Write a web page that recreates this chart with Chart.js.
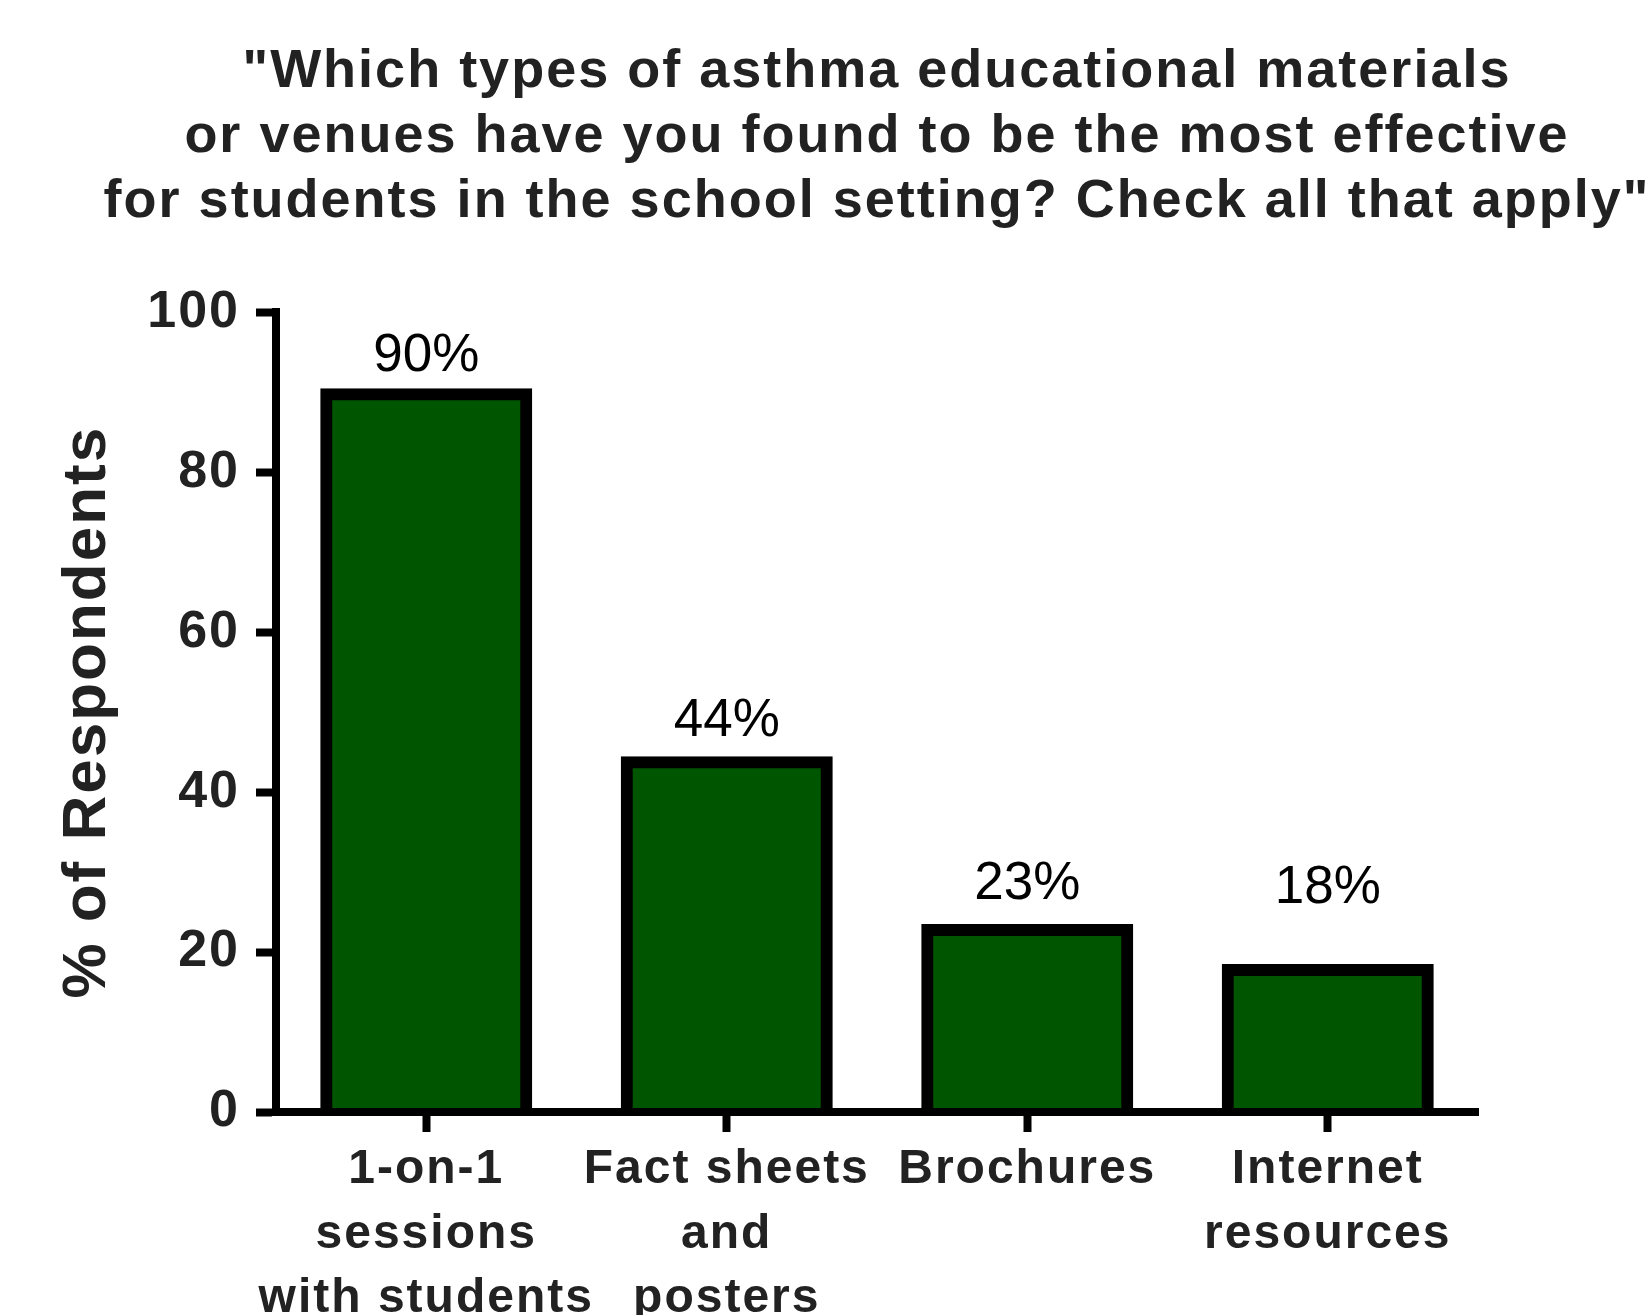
<!DOCTYPE html>
<html>
<head>
<meta charset="utf-8">
<script src="https://cdn.jsdelivr.net/npm/chart.js@4/dist/chart.umd.min.js"></script>
<style>
  html, body { margin: 0; padding: 0; background: #fff; }
</style>
</head>
<body>
<canvas id="graficoDeBarra" width="1650" height="1315"></canvas>
<script>
const tituloLinhas = [
  "\"Which types of asthma educational materials",
  "or venues have you found to be the most effective",
  "for students in the school setting? Check all that apply\""
];
const categorias = [
  ["1-on-1", "sessions", "with students"],
  ["Fact sheets", "and", "posters"],
  ["Brochures"],
  ["Internet", "resources"]
];
const respondentes = [90, 44, 23, 18];
const rotulos = ["90%", "44%", "23%", "18%"];
const yMax = 100;
const yPasso = 20;
// how far (px) each percent label sits above its bar
const rotuloAltura = [21, 24, 29, 65];

Chart.defaults.font.family = "'Liberation Sans', Arial, sans-serif";

// the old picture has loose letter spacing on the bold text
const espacamento = {
  id: "espacamento",
  beforeDraw(chart) { chart.ctx.letterSpacing = "2px"; },
  beforeDatasetsDraw(chart) { chart.ctx.letterSpacing = "0px"; },
  afterDatasetsDraw(chart) { chart.ctx.letterSpacing = "2px"; },
  afterDraw(chart) { chart.ctx.letterSpacing = "0px"; }
};

// title centred over the plot area but allowed to run wider than it
const tituloLargo = {
  id: "tituloLargo",
  afterLayout(chart) {
    const t = chart.titleBlock;
    if (!t) return;
    const meio = (chart.chartArea.left + chart.chartArea.right) / 2;
    t.left = meio - 900;
    t.right = meio + 900;
    t.width = 1800;
  }
};

const rotulosBarras = {
  id: "rotulosBarras",
  afterDatasetsDraw(chart) {
    const ctx = chart.ctx;
    const meta = chart.getDatasetMeta(0);
    ctx.save();
    ctx.letterSpacing = "0px";
    ctx.font = "53px 'Liberation Sans', Arial, sans-serif";
    ctx.fillStyle = "#000";
    ctx.textAlign = "center";
    ctx.textBaseline = "alphabetic";
    meta.data.forEach((bar, i) => {
      ctx.fillText(rotulos[i], bar.x, bar.y - rotuloAltura[i]);
    });
    ctx.restore();
  }
};

const ctx = document.getElementById("graficoDeBarra");

new Chart(ctx, {
  type: "bar",
  data: {
    labels: categorias,
    datasets: [
      {
        label: "% of Respondents",
        data: respondentes,
        backgroundColor: "#005500",
        borderColor: "#000000",
        borderWidth: 12,
        borderSkipped: "start",
        inflateAmount: 4,
        barPercentage: 0.679,
        categoryPercentage: 1
      }
    ]
  },
  options: {
    responsive: false,
    animation: false,
    devicePixelRatio: 1,
    layout: { padding: { left: 0, right: 172, top: 0, bottom: 0 } },
    plugins: {
      legend: { display: false },
      tooltip: { enabled: false },
      title: {
        display: true,
        fullSize: false,
        text: tituloLinhas,
        color: "#222",
        font: { size: 54, weight: "bold", lineHeight: 1.2 },
        padding: { top: 40, bottom: 78 }
      }
    },
    scales: {
      x: {
        grid: {
          display: true,
          offset: false,
          drawOnChartArea: false,
          drawTicks: true,
          tickLength: 20,
          tickWidth: 8,
          tickColor: "#000"
        },
        border: { display: true, color: "#000", width: 8, z: 1 },
        ticks: {
          color: "#222",
          padding: 6,
          maxRotation: 0,
          autoSkip: false,
          font: { size: 48, weight: "bold", lineHeight: 1.34 }
        },
        afterFit(scale) { scale.height = 203; }
      },
      y: {
        min: 0,
        max: yMax,
        grid: {
          display: true,
          drawOnChartArea: false,
          drawTicks: true,
          tickLength: 20,
          tickWidth: 8,
          tickColor: "#000"
        },
        border: { display: true, color: "#000", width: 8, z: 1 },
        ticks: {
          stepSize: yPasso,
          padding: 16,
          color: "#222",
          font: { size: 52, weight: "bold" }
        },
        title: {
          display: true,
          text: "% of Respondents",
          color: "#222",
          font: { size: 62, weight: "bold", lineHeight: 1.2 },
          padding: { top: 51, bottom: 0 }
        },
        afterFit(scale) { scale.width = 276; }
      }
    }
  },
  plugins: [espacamento, tituloLargo, rotulosBarras]
});
</script>
</body>
</html>
